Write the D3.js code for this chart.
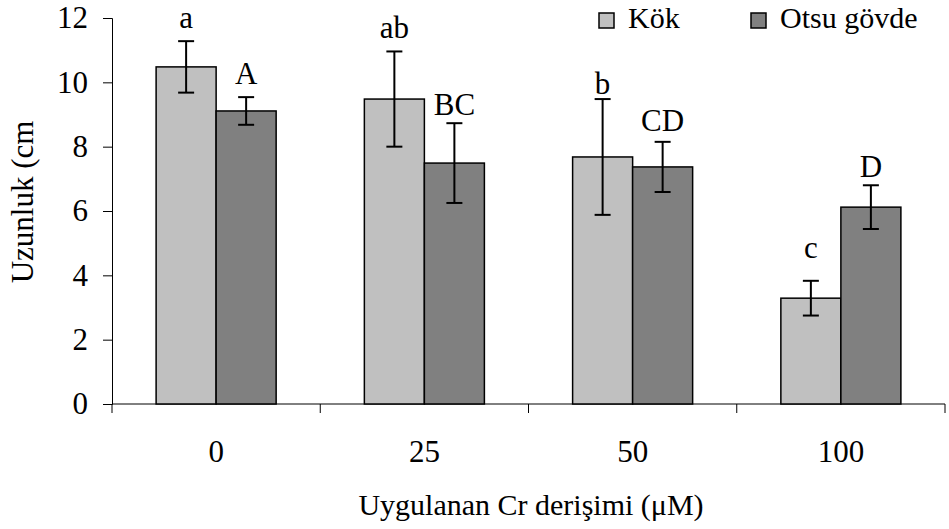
<meta charset="utf-8">
<style>body { margin: 0; }</style>
<svg width="949" height="529"></svg>
<script src="https://d3js.org/d3.v7.min.js"></script>
<script>
// data
var categories = ["0", "25", "50", "100"];
var series = ["Kök", "Otsu gövde"];
var kok = [10.48, 9.48, 7.68, 3.29];
var kokErr = [0.80, 1.48, 1.80, 0.54];
var otsu = [9.11, 7.49, 7.37, 6.12];
var otsuErr = [0.43, 1.24, 0.78, 0.68];
var kokLetters = ["a", "ab", "b", "c"];
var otsuLetters = ["A", "BC", "CD", "D"];
var kokLetterAt = [11.69, 11.38, 9.64, 4.54];
var otsuLetterAt = [9.95, 8.98, 8.49, 7.06];
var yTicks = [0, 2, 4, 6, 8, 10, 12];

var svg = d3.select("svg");
var font = "'Liberation Serif', 'Times New Roman', serif";
var colors = { "Kök": "#c0c0c0", "Otsu gövde": "#808080" };

var x0 = d3.scaleBand().domain(categories).range([112, 945]).padding(0);
var x1 = d3.scaleBand().domain(series).range([0, x0.bandwidth()]).paddingInner(0).paddingOuter(0.735);
var y = d3.scaleLinear().domain([0, 12]).range([404, 18]);

var rows = [];
categories.forEach(function(c, i) {
    rows.push({ cat: c, s: "Kök", v: kok[i], e: kokErr[i], lab: kokLetters[i], labY: kokLetterAt[i] });
    rows.push({ cat: c, s: "Otsu gövde", v: otsu[i], e: otsuErr[i], lab: otsuLetters[i], labY: otsuLetterAt[i] });
});

// y axis
var yAxis = svg.append("g")
    .attr("transform", "translate(112,0)")
    .call(d3.axisLeft(y).tickValues(yTicks).tickSize(9).tickPadding(15));
yAxis.attr("font-family", null).attr("font-size", null);
yAxis.select(".domain").attr("stroke", "#000");
yAxis.selectAll("line").attr("stroke", "#000");
yAxis.selectAll("text").style("font-family", font).style("font-size", "31px").attr("fill", "#000");

// x axis: ticks on band boundaries
var xAxis = svg.append("g").attr("transform", "translate(0,404)");
xAxis.append("line").attr("x1", 112).attr("x2", 945).attr("stroke", "#000");
var bounds = categories.map(function(c) { return x0(c); }).concat([x0.range()[1]]);
xAxis.selectAll("line.tk").data(bounds).enter().append("line")
    .attr("class", "tk")
    .attr("x1", function(d) { return d; }).attr("x2", function(d) { return d; })
    .attr("y1", 0).attr("y2", 9).attr("stroke", "#000");
xAxis.selectAll("text").data(categories).enter().append("text")
    .attr("x", function(d) { return x0(d) + x0.bandwidth() / 2; })
    .attr("y", 58)
    .attr("text-anchor", "middle")
    .style("font-family", font).style("font-size", "31px")
    .text(function(d) { return d; });

// bars
var g = svg.append("g");
g.selectAll("rect").data(rows).enter().append("rect")
    .attr("x", function(d) { return x0(d.cat) + x1(d.s); })
    .attr("y", function(d) { return y(d.v); })
    .attr("width", x1.bandwidth())
    .attr("height", function(d) { return y(0) - y(d.v); })
    .attr("fill", function(d) { return colors[d.s]; })
    .attr("stroke", "#000").attr("stroke-width", 1.5);

// error bars
var eb = g.selectAll("g.err").data(rows).enter().append("g").attr("class", "err")
    .attr("transform", function(d) { return "translate(" + (x0(d.cat) + x1(d.s) + x1.bandwidth() / 2) + ",0)"; });
eb.append("line")
    .attr("y1", function(d) { return y(d.v + d.e); })
    .attr("y2", function(d) { return y(d.v - d.e); })
    .attr("stroke", "#000").attr("stroke-width", 2);
eb.append("line").attr("x1", -8).attr("x2", 8)
    .attr("y1", function(d) { return y(d.v + d.e); }).attr("y2", function(d) { return y(d.v + d.e); })
    .attr("stroke", "#000").attr("stroke-width", 2);
eb.append("line").attr("x1", -8).attr("x2", 8)
    .attr("y1", function(d) { return y(d.v - d.e); }).attr("y2", function(d) { return y(d.v - d.e); })
    .attr("stroke", "#000").attr("stroke-width", 2);

// significance letters
eb.append("text")
    .attr("y", function(d) { return y(d.labY); })
    .attr("text-anchor", "middle")
    .style("font-family", font).style("font-size", "31px")
    .text(function(d) { return d.lab; });

// axis titles
svg.append("text")
    .attr("transform", "translate(33,202) rotate(-90)")
    .attr("text-anchor", "middle")
    .style("font-family", font).style("font-size", "31px")
    .text("Uzunluk (cm");
svg.append("text")
    .attr("x", 531).attr("y", 515)
    .attr("text-anchor", "middle")
    .style("font-family", font).style("font-size", "30px")
    .text("Uygulanan Cr derişimi (μM)");

// legend
var legX = [599, 751];
var leg = svg.selectAll("g.leg").data(series).enter().append("g").attr("class", "leg")
    .attr("transform", function(d, i) { return "translate(" + legX[i] + ",13)"; });
leg.append("rect").attr("width", 15).attr("height", 15)
    .attr("fill", function(d) { return colors[d]; })
    .attr("stroke", "#000").attr("stroke-width", 1.5);
leg.append("text").attr("x", 29).attr("y", 15)
    .style("font-family", font).style("font-size", "30px")
    .text(function(d) { return d; });
</script>
